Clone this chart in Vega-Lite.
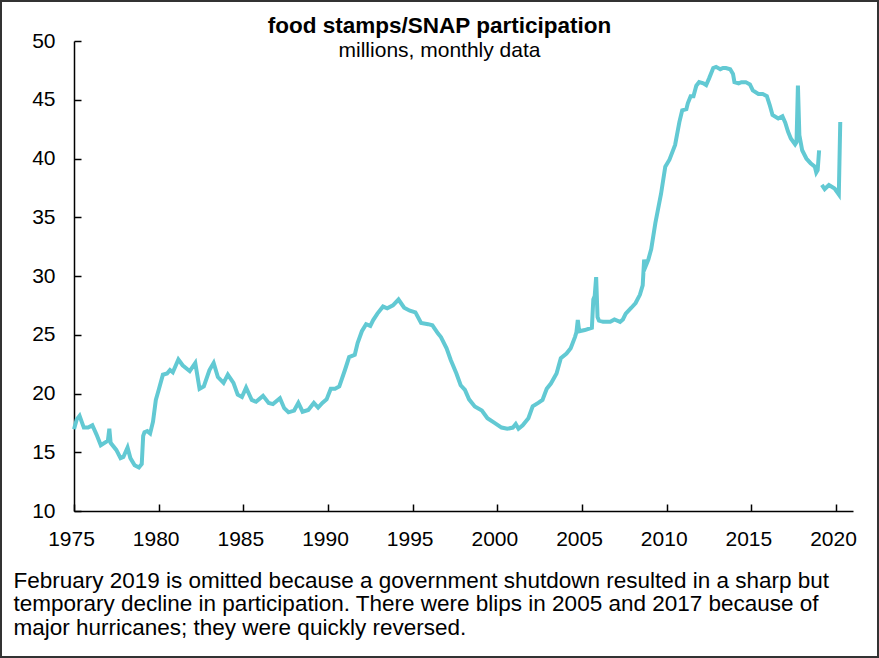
{
  "$schema": "https://vega.github.io/schema/vega-lite/v6.json",
  "width": 877,
  "height": 656,
  "padding": 1,
  "autosize": "none",
  "background": "white",
  "config": {
    "view": {"stroke": "#333333", "strokeWidth": 2},
    "font": "Liberation Sans"
  },
  "title": {
    "text": "food stamps/SNAP participation",
    "subtitle": "millions, monthly data",
    "frame": "group",
    "anchor": "middle",
    "orient": "top",
    "offset": -60,
    "fontSize": 22.5,
    "fontWeight": "bold",
    "color": "#000000",
    "subtitleFontSize": 21,
    "subtitleColor": "#000000",
    "subtitlePadding": 3
  },
  "data": {
    "values": [
      {"date": "1975-01", "snap": 16.95},
      {"date": "1975-03", "snap": 17.8},
      {"date": "1975-05", "snap": 18.1},
      {"date": "1975-08", "snap": 17.1},
      {"date": "1975-11", "snap": 17.1},
      {"date": "1976-02", "snap": 17.3},
      {"date": "1976-05", "snap": 16.5},
      {"date": "1976-08", "snap": 15.6},
      {"date": "1976-12", "snap": 15.9},
      {"date": "1977-01", "snap": 16.0},
      {"date": "1977-02", "snap": 17.0},
      {"date": "1977-03", "snap": 15.8},
      {"date": "1977-07", "snap": 15.2},
      {"date": "1977-10", "snap": 14.5},
      {"date": "1977-12", "snap": 14.6},
      {"date": "1978-03", "snap": 15.4},
      {"date": "1978-05", "snap": 14.5},
      {"date": "1978-08", "snap": 13.9},
      {"date": "1978-11", "snap": 13.7},
      {"date": "1979-01", "snap": 14.0},
      {"date": "1979-02", "snap": 16.4},
      {"date": "1979-03", "snap": 16.7},
      {"date": "1979-05", "snap": 16.8},
      {"date": "1979-07", "snap": 16.6},
      {"date": "1979-09", "snap": 17.6},
      {"date": "1979-11", "snap": 19.45},
      {"date": "1980-01", "snap": 20.3},
      {"date": "1980-04", "snap": 21.6},
      {"date": "1980-07", "snap": 21.7},
      {"date": "1980-09", "snap": 22.0},
      {"date": "1980-11", "snap": 21.8},
      {"date": "1981-03", "snap": 22.9},
      {"date": "1981-06", "snap": 22.4},
      {"date": "1981-11", "snap": 21.9},
      {"date": "1982-03", "snap": 22.6},
      {"date": "1982-06", "snap": 20.4},
      {"date": "1982-09", "snap": 20.6},
      {"date": "1983-01", "snap": 22.0},
      {"date": "1983-04", "snap": 22.6},
      {"date": "1983-07", "snap": 21.4},
      {"date": "1983-11", "snap": 20.9},
      {"date": "1984-02", "snap": 21.6},
      {"date": "1984-06", "snap": 20.9},
      {"date": "1984-09", "snap": 19.9},
      {"date": "1984-12", "snap": 19.7},
      {"date": "1985-03", "snap": 20.5},
      {"date": "1985-07", "snap": 19.45},
      {"date": "1985-10", "snap": 19.3},
      {"date": "1986-03", "snap": 19.8},
      {"date": "1986-07", "snap": 19.2},
      {"date": "1986-10", "snap": 19.1},
      {"date": "1987-03", "snap": 19.6},
      {"date": "1987-06", "snap": 18.75},
      {"date": "1987-09", "snap": 18.4},
      {"date": "1988-01", "snap": 18.55},
      {"date": "1988-04", "snap": 19.2},
      {"date": "1988-07", "snap": 18.45},
      {"date": "1988-11", "snap": 18.6},
      {"date": "1989-03", "snap": 19.2},
      {"date": "1989-06", "snap": 18.8},
      {"date": "1989-09", "snap": 19.2},
      {"date": "1989-12", "snap": 19.5},
      {"date": "1990-03", "snap": 20.4},
      {"date": "1990-06", "snap": 20.4},
      {"date": "1990-09", "snap": 20.6},
      {"date": "1991-01", "snap": 22.0},
      {"date": "1991-04", "snap": 23.1},
      {"date": "1991-08", "snap": 23.3},
      {"date": "1991-10", "snap": 24.3},
      {"date": "1992-01", "snap": 25.3},
      {"date": "1992-04", "snap": 25.9},
      {"date": "1992-07", "snap": 25.75},
      {"date": "1992-09", "snap": 26.25},
      {"date": "1992-12", "snap": 26.8},
      {"date": "1993-04", "snap": 27.4},
      {"date": "1993-07", "snap": 27.25},
      {"date": "1993-11", "snap": 27.5},
      {"date": "1994-03", "snap": 28.0},
      {"date": "1994-07", "snap": 27.3},
      {"date": "1994-11", "snap": 27.05},
      {"date": "1995-03", "snap": 26.9},
      {"date": "1995-07", "snap": 26.0},
      {"date": "1995-12", "snap": 25.9},
      {"date": "1996-03", "snap": 25.8},
      {"date": "1996-07", "snap": 25.1},
      {"date": "1996-09", "snap": 24.8},
      {"date": "1997-01", "snap": 23.85},
      {"date": "1997-04", "snap": 22.85},
      {"date": "1997-08", "snap": 21.7},
      {"date": "1997-11", "snap": 20.7},
      {"date": "1998-02", "snap": 20.3},
      {"date": "1998-05", "snap": 19.5},
      {"date": "1998-09", "snap": 18.9},
      {"date": "1999-02", "snap": 18.55},
      {"date": "1999-06", "snap": 17.9},
      {"date": "1999-11", "snap": 17.5},
      {"date": "2000-04", "snap": 17.1},
      {"date": "2000-08", "snap": 17.0},
      {"date": "2000-12", "snap": 17.1},
      {"date": "2001-02", "snap": 17.4},
      {"date": "2001-04", "snap": 17.0},
      {"date": "2001-07", "snap": 17.3},
      {"date": "2001-11", "snap": 17.9},
      {"date": "2002-02", "snap": 18.9},
      {"date": "2002-06", "snap": 19.2},
      {"date": "2002-09", "snap": 19.45},
      {"date": "2002-12", "snap": 20.4},
      {"date": "2003-03", "snap": 20.85},
      {"date": "2003-07", "snap": 21.7},
      {"date": "2003-10", "snap": 23.0},
      {"date": "2004-02", "snap": 23.4},
      {"date": "2004-05", "snap": 23.85},
      {"date": "2004-08", "snap": 24.8},
      {"date": "2004-09", "snap": 25.2},
      {"date": "2004-10", "snap": 26.25},
      {"date": "2004-11", "snap": 25.3},
      {"date": "2005-03", "snap": 25.4},
      {"date": "2005-08", "snap": 25.6},
      {"date": "2005-09", "snap": 28.0},
      {"date": "2005-10", "snap": 28.3},
      {"date": "2005-11", "snap": 29.9},
      {"date": "2005-12", "snap": 26.5},
      {"date": "2006-01", "snap": 26.2},
      {"date": "2006-04", "snap": 26.1},
      {"date": "2006-09", "snap": 26.1},
      {"date": "2006-12", "snap": 26.3},
      {"date": "2007-04", "snap": 26.1},
      {"date": "2007-06", "snap": 26.3},
      {"date": "2007-08", "snap": 26.8},
      {"date": "2007-12", "snap": 27.3},
      {"date": "2008-03", "snap": 27.7},
      {"date": "2008-06", "snap": 28.4},
      {"date": "2008-08", "snap": 29.2},
      {"date": "2008-09", "snap": 31.4},
      {"date": "2008-10", "snap": 30.8},
      {"date": "2008-12", "snap": 31.4},
      {"date": "2009-02", "snap": 32.3},
      {"date": "2009-05", "snap": 34.5},
      {"date": "2009-09", "snap": 37.0},
      {"date": "2009-12", "snap": 39.3},
      {"date": "2010-03", "snap": 39.9},
      {"date": "2010-07", "snap": 41.15},
      {"date": "2010-10", "snap": 43.1},
      {"date": "2010-12", "snap": 44.1},
      {"date": "2011-03", "snap": 44.2},
      {"date": "2011-04", "snap": 44.7},
      {"date": "2011-06", "snap": 45.3},
      {"date": "2011-08", "snap": 45.3},
      {"date": "2011-10", "snap": 46.2},
      {"date": "2011-12", "snap": 46.5},
      {"date": "2012-03", "snap": 46.4},
      {"date": "2012-05", "snap": 46.25},
      {"date": "2012-07", "snap": 46.8},
      {"date": "2012-10", "snap": 47.7},
      {"date": "2012-12", "snap": 47.8},
      {"date": "2013-03", "snap": 47.6},
      {"date": "2013-05", "snap": 47.7},
      {"date": "2013-07", "snap": 47.7},
      {"date": "2013-10", "snap": 47.6},
      {"date": "2013-12", "snap": 47.2},
      {"date": "2014-01", "snap": 46.5},
      {"date": "2014-04", "snap": 46.4},
      {"date": "2014-06", "snap": 46.5},
      {"date": "2014-09", "snap": 46.5},
      {"date": "2014-12", "snap": 46.3},
      {"date": "2015-02", "snap": 45.8},
      {"date": "2015-06", "snap": 45.5},
      {"date": "2015-09", "snap": 45.5},
      {"date": "2015-12", "snap": 45.3},
      {"date": "2016-02", "snap": 44.55},
      {"date": "2016-04", "snap": 43.7},
      {"date": "2016-08", "snap": 43.4},
      {"date": "2016-11", "snap": 43.6},
      {"date": "2017-01", "snap": 43.05},
      {"date": "2017-03", "snap": 42.3},
      {"date": "2017-05", "snap": 41.7},
      {"date": "2017-08", "snap": 41.2},
      {"date": "2017-09", "snap": 41.4},
      {"date": "2017-10", "snap": 46.2},
      {"date": "2017-11", "snap": 42.0},
      {"date": "2018-01", "snap": 40.7},
      {"date": "2018-04", "snap": 40.0},
      {"date": "2018-07", "snap": 39.6},
      {"date": "2018-10", "snap": 39.3},
      {"date": "2018-11", "snap": 38.8},
      {"date": "2018-12", "snap": 39.0},
      {"date": "2019-01", "snap": 40.7},
      {"date": "2019-02", "snap": null},
      {"date": "2019-03", "snap": 37.75},
      {"date": "2019-05", "snap": 37.4},
      {"date": "2019-08", "snap": 37.75},
      {"date": "2019-12", "snap": 37.45},
      {"date": "2020-03", "snap": 36.95},
      {"date": "2020-04", "snap": 43.1}
    ]
  },
  "mark": {
    "type": "line",
    "color": "#62C9D3",
    "strokeWidth": 4,
    "invalid": "break-paths-show-domains"
  },
  "encoding": {
    "x": {
      "field": "date",
      "type": "temporal",
      "scale": {
        "type": "utc",
        "domain": [{"year": 1975, "utc": true}, {"year": 2021, "utc": true}],
        "range": [73, 852]
      },
      "axis": {
        "orient": "bottom",
        "offset": -146,
        "values": [
          {"year": 1975, "utc": true}, {"year": 1980, "utc": true},
          {"year": 1985, "utc": true}, {"year": 1990, "utc": true},
          {"year": 1995, "utc": true}, {"year": 2000, "utc": true},
          {"year": 2005, "utc": true}, {"year": 2010, "utc": true},
          {"year": 2015, "utc": true}, {"year": 2020, "utc": true}
        ],
        "format": "%Y",
        "grid": false,
        "domainColor": "#000000",
        "domainWidth": 1.5,
        "tickColor": "#000000",
        "tickWidth": 1.5,
        "tickSize": -7,
        "labelFontSize": 21,
        "labelColor": "#000000",
        "labelPadding": 24,
        "labelOffset": -3,
        "labelFlush": false,
        "labelOverlap": false,
        "title": [
          "February 2019 is omitted because a government shutdown resulted in a sharp but",
          "temporary decline in participation. There were blips in 2005 and 2017 because of",
          "major hurricanes; they were quickly reversed."
        ],
        "titleAnchor": "start",
        "titleAlign": "left",
        "titleBaseline": "alphabetic",
        "titleX": 12,
        "titleY": 76,
        "titleFontSize": 22.5,
        "titleFontWeight": "normal",
        "titleLineHeight": 23.5,
        "titleColor": "#000000"
      }
    },
    "y": {
      "field": "snap",
      "type": "quantitative",
      "scale": {"domain": [10, 50], "range": [510, 40], "zero": false, "nice": false},
      "axis": {
        "orient": "left",
        "offset": -73,
        "values": [10, 15, 20, 25, 30, 35, 40, 45, 50],
        "grid": false,
        "domainColor": "#000000",
        "domainWidth": 1.5,
        "tickColor": "#000000",
        "tickWidth": 1.5,
        "tickSize": -7,
        "labelFontSize": 21,
        "labelColor": "#000000",
        "labelPadding": 26,
        "labelFlush": false,
        "labelOverlap": false,
        "title": null
      }
    }
  }
}
